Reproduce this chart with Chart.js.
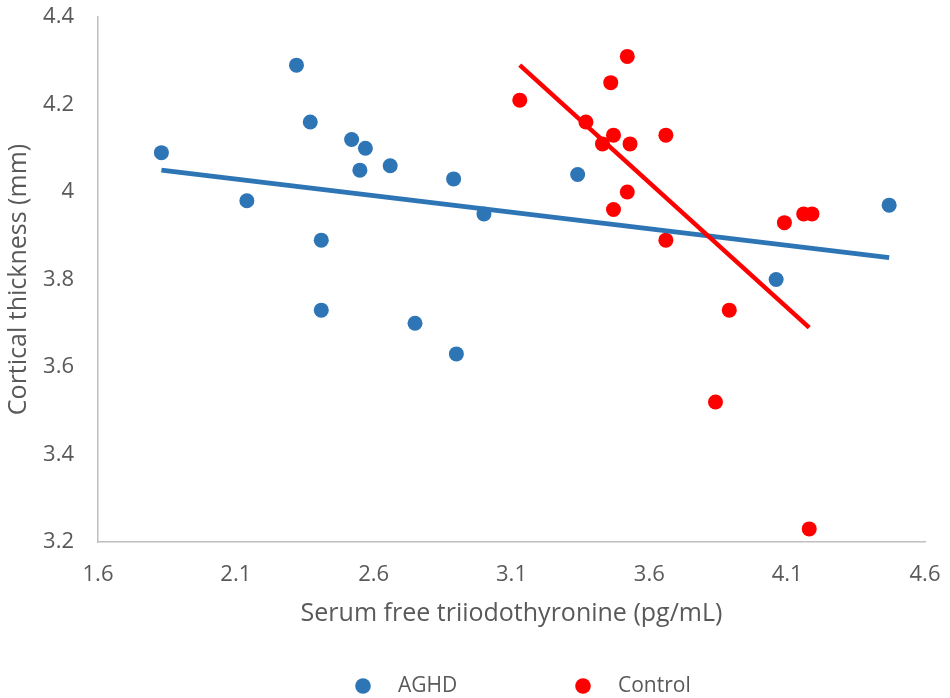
<!DOCTYPE html>
<html>
<head>
<meta charset="utf-8">
<title>Cortical thickness vs serum free T3</title>
<script src="https://cdn.jsdelivr.net/npm/chart.js@4.4.1/dist/chart.umd.min.js"></script>
<style>
  html, body { margin: 0; padding: 0; background: #fff; }
  #wrap { width: 950px; height: 698px; }
</style>
</head>
<body>
<div id="wrap"><canvas id="chart" width="950" height="698"></canvas></div>
<script>
// values
const seriesNames = ["AGHD", "Control"];

const aghdX = [1.83, 2.14, 2.32, 2.37, 2.41, 2.41, 2.52, 2.55, 2.57, 2.66, 2.75, 2.89, 2.90, 3.00, 3.34, 4.06, 4.47];
const aghdY = [4.09, 3.98, 4.29, 4.16, 3.89, 3.73, 4.12, 4.05, 4.10, 4.06, 3.70, 4.03, 3.63, 3.95, 4.04, 3.80, 3.97];

const controlX = [3.13, 3.37, 3.43, 3.46, 3.47, 3.47, 3.52, 3.52, 3.53, 3.66, 3.66, 3.84, 3.89, 4.09, 4.16, 4.19, 4.18];
const controlY = [4.21, 4.16, 4.11, 4.25, 4.13, 3.96, 4.31, 4.00, 4.11, 4.13, 3.89, 3.52, 3.73, 3.93, 3.95, 3.95, 3.23];

// linear trend line end points
const aghdTrendX = [1.83, 4.47];
const aghdTrendY = [4.05, 3.85];
const controlTrendX = [3.13, 4.18];
const controlTrendY = [4.29, 3.69];

const xTicks = [1.6, 2.1, 2.6, 3.1, 3.6, 4.1, 4.6];
const xTickLabels = ["1.6", "2.1", "2.6", "3.1", "3.6", "4.1", "4.6"];
const yTicks = [3.2, 3.4, 3.6, 3.8, 4.0, 4.2, 4.4];
const yTickLabels = ["3.2", "3.4", "3.6", "3.8", "4", "4.2", "4.4"];

const xTitle = "Serum free triiodothyronine (pg/mL)";
const yTitle = "Cortical thickness (mm)";

function toPoints(xs, ys) {
  let pts = [];
  for (let i = 0; i < xs.length; i++) {
    pts.push({ x: xs[i], y: ys[i] });
  }
  return pts;
}

const blue = "#2E75B6";
const red = "#FF0000";
const textGray = "#595959";
const axisGray = "#BFBFBF";
const fontFamily = "'Open Sans', 'DejaVu Sans', sans-serif";

// legend drawn under the plot, like the original
const bottomLegend = {
  id: "bottomLegend",
  afterDraw(chart, args, opts) {
    let ctx = chart.ctx;
    ctx.save();
    ctx.font = opts.fontSize + "px " + fontFamily;
    ctx.textBaseline = "middle";
    ctx.textAlign = "left";
    opts.items.forEach(function (x, i) {
      let ds = chart.data.datasets[i];
      ctx.beginPath();
      ctx.arc(x, opts.y, opts.radius, 0, Math.PI * 2);
      ctx.fillStyle = ds.backgroundColor;
      ctx.fill();
      ctx.fillStyle = opts.color;
      ctx.fillText(ds.label, x + opts.gap, opts.y);
    });
    ctx.restore();
  }
};

let ctx = document.getElementById("chart").getContext("2d");
window.myChart = new Chart(ctx, {
  type: "scatter",
  data: {
    datasets: [
      {
        label: seriesNames[0],
        data: toPoints(aghdX, aghdY),
        backgroundColor: blue,
        borderWidth: 0,
        pointRadius: 7.5,
        pointHoverRadius: 7.5,
        order: 3
      },
      {
        label: seriesNames[1],
        data: toPoints(controlX, controlY),
        backgroundColor: red,
        borderWidth: 0,
        pointRadius: 7.5,
        pointHoverRadius: 7.5,
        order: 2
      },
      {
        label: "AGHD trend",
        data: toPoints(aghdTrendX, aghdTrendY),
        showLine: true,
        borderColor: blue,
        backgroundColor: blue,
        borderWidth: 5,
        pointRadius: 0,
        order: 1
      },
      {
        label: "Control trend",
        data: toPoints(controlTrendX, controlTrendY),
        showLine: true,
        borderColor: red,
        backgroundColor: red,
        borderWidth: 4.5,
        pointRadius: 0,
        order: 0
      }
    ]
  },
  options: {
    responsive: false,
    animation: false,
    layout: { padding: { top: 17, right: 25, bottom: 0, left: 0 } },
    plugins: {
      legend: { display: false },
      tooltip: { enabled: false },
      bottomLegend: {
        items: [363, 583],
        y: 686,
        radius: 7.8,
        gap: 35,
        fontSize: 21,
        color: textGray
      }
    },
    scales: {
      x: {
        type: "linear",
        min: 1.6,
        max: 4.6,
        afterBuildTicks: function (scale) {
          scale.ticks = xTicks.map(function (v) { return { value: v }; });
        },
        afterFit: function (scale) { scale.height = 156; },
        // tick marks hidden, tickLength only spaces the labels
        grid: { display: false, drawTicks: true, tickLength: 20 },
        border: { display: true, color: axisGray, width: 1.5 },
        ticks: {
          padding: 0,
          color: textGray,
          font: { family: fontFamily, size: 22 },
          callback: function (value, index) { return xTickLabels[index]; }
        },
        title: {
          display: true,
          text: xTitle,
          color: textGray,
          font: { family: fontFamily, size: 25 },
          padding: { top: 0, bottom: 69 }
        }
      },
      y: {
        type: "linear",
        min: 3.2,
        max: 4.4,
        afterBuildTicks: function (scale) {
          scale.ticks = yTicks.map(function (v) { return { value: v }; });
        },
        afterFit: function (scale) { scale.width = 98; },
        grid: { display: false, drawTicks: true, tickLength: 24 },
        border: { display: true, color: axisGray, width: 1.5 },
        ticks: {
          padding: 0,
          color: textGray,
          font: { family: fontFamily, size: 22 },
          callback: function (value, index) { return yTickLabels[index]; }
        },
        title: {
          display: true,
          text: yTitle,
          color: textGray,
          font: { family: fontFamily, size: 25 },
          padding: { top: 4, bottom: 0 }
        }
      }
    }
  },
  plugins: [bottomLegend]
});
</script>
</body>
</html>
